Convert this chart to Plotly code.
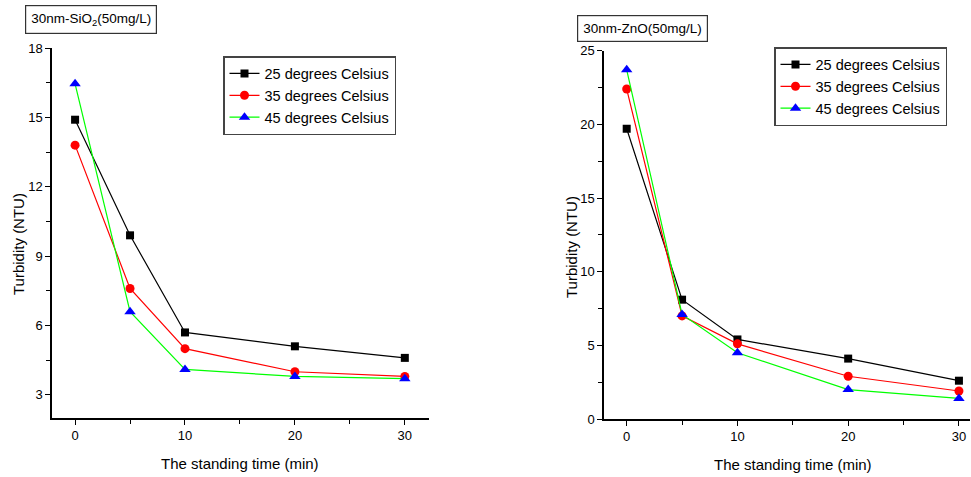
import plotly.graph_objects as go

time_min = [0, 5, 10, 20, 30]
series_names = ["25 degrees Celsius", "35 degrees Celsius", "45 degrees Celsius"]

sio2_25 = [14.9, 9.9, 5.7, 5.1, 4.6]
sio2_35 = [13.8, 7.6, 5.0, 4.0, 3.8]
sio2_45 = [16.45, 6.6, 4.1, 3.8, 3.7]

zno_25 = [19.7, 8.1, 5.4, 4.1, 2.6]
zno_35 = [22.4, 7.0, 5.1, 2.9, 1.9]
zno_45 = [23.7, 7.1, 4.5, 2.0, 1.4]

sio2_yticks = [3, 6, 9, 12, 15, 18]
zno_yticks = [0, 5, 10, 15, 20, 25]
x_ticks = [0, 10, 20, 30]

line_colors = ["#000000", "#ff0000", "#00ff00"]
marker_colors = ["#000000", "#ff0000", "#0000ff"]
symbols = ["square", "circle", "triangle-up"]
msizes = [8, 9, 10]

FONT = "Liberation Sans, Arial, sans-serif"

fig = go.Figure()

for panel, (sets, xa, ya, lg) in enumerate([
    ([sio2_25, sio2_35, sio2_45], "x", "y", "legend"),
    ([zno_25, zno_35, zno_45], "x2", "y2", "legend2"),
]):
    for i, vals in enumerate(sets):
        fig.add_trace(go.Scatter(
            x=time_min, y=vals, mode="lines+markers", name=series_names[i],
            xaxis=xa, yaxis=ya, legend=lg,
            line=dict(color=line_colors[i], width=1.2),
            marker=dict(color=marker_colors[i], symbol=symbols[i], size=msizes[i],
                        line=dict(width=0)),
        ))

axis_common = dict(
    showline=True, linecolor="black", linewidth=1.5, showgrid=False, zeroline=False,
    ticks="outside", ticklen=5, tickwidth=1, tickcolor="black", automargin=False,
    tickfont=dict(family=FONT, size=13, color="black"),
)
minor_x = dict(dtick=5, tick0=0, ticks="outside", ticklen=4, tickcolor="black", showgrid=False)

W, H = 971, 477
fig.update_layout(
    width=W, height=H, margin=dict(l=0, r=0, t=0, b=0, autoexpand=False),
    paper_bgcolor="white", plot_bgcolor="white",
    font=dict(family=FONT, color="black"),
    xaxis=dict(domain=[52 / W, 429 / W], range=[-2.1, 32.2], tickmode="array", tickvals=x_ticks,
               minor=minor_x, anchor="y", **axis_common),
    yaxis=dict(domain=[1 - 418 / H, 1 - 48 / H], range=[2, 18.001], tickmode="array", tickvals=sio2_yticks,
               minor=dict(dtick=1.5, tick0=0, ticks="outside", ticklen=4, tickcolor="black", showgrid=False),
               anchor="x", **axis_common),
    xaxis2=dict(domain=[604 / W, 970 / W], range=[-2.05, 31.0], tickmode="array", tickvals=x_ticks,
                minor=minor_x, anchor="y2", **axis_common),
    yaxis2=dict(domain=[1 - 419 / H, 1 - 50.7 / H], range=[0, 25.001], tickmode="array", tickvals=zno_yticks,
                minor=dict(dtick=2.5, tick0=0, ticks="outside", ticklen=4, tickcolor="black", showgrid=False),
                anchor="x2", **axis_common),
    legend=dict(x=223 / W, y=1 - 56 / H, xanchor="left", yanchor="top",
                bordercolor="#444444", borderwidth=1.5, bgcolor="white",
                font=dict(family=FONT, size=14.5, color="black"), tracegroupgap=0),
    legend2=dict(x=774 / W, y=1 - 47 / H, xanchor="left", yanchor="top",
                 bordercolor="#444444", borderwidth=1.5, bgcolor="white",
                 font=dict(family=FONT, size=14.5, color="black"), tracegroupgap=0),
    showlegend=True,
)

def title_ann(text, x, y, angle=0):
    fig.add_annotation(xref="paper", yref="paper", x=x / W, y=1 - y / H, text=text,
                       showarrow=False, textangle=angle, xanchor="center", yanchor="middle",
                       font=dict(family=FONT, size=15, color="black"))

title_ann("The standing time (min)", 240, 463)
title_ann("The standing time (min)", 793, 464)
title_ann("Turbidity (NTU)", 18, 244, -90)
title_ann("Turbidity (NTU)", 571, 247, -90)

fig.add_annotation(xref="paper", yref="paper", x=91 / W, y=1 - 20 / H,
                   text="30nm-SiO<sub>2</sub>(50mg/L)", showarrow=False,
                   font=dict(family=FONT, size=13.5, color="black"),
                   xanchor="center", yanchor="middle",
                   bordercolor="#333333", borderwidth=1.2, borderpad=5, bgcolor="white")
fig.add_annotation(xref="paper", yref="paper", x=642 / W, y=1 - 28.5 / H,
                   text="30nm-ZnO(50mg/L)", showarrow=False,
                   font=dict(family=FONT, size=13.5, color="black"),
                   xanchor="center", yanchor="middle",
                   bordercolor="#333333", borderwidth=1.2, borderpad=5, bgcolor="white")

fig.write_html("out.html", config={"displayModeBar": False},
               post_script="document.body.style.margin='0';")
